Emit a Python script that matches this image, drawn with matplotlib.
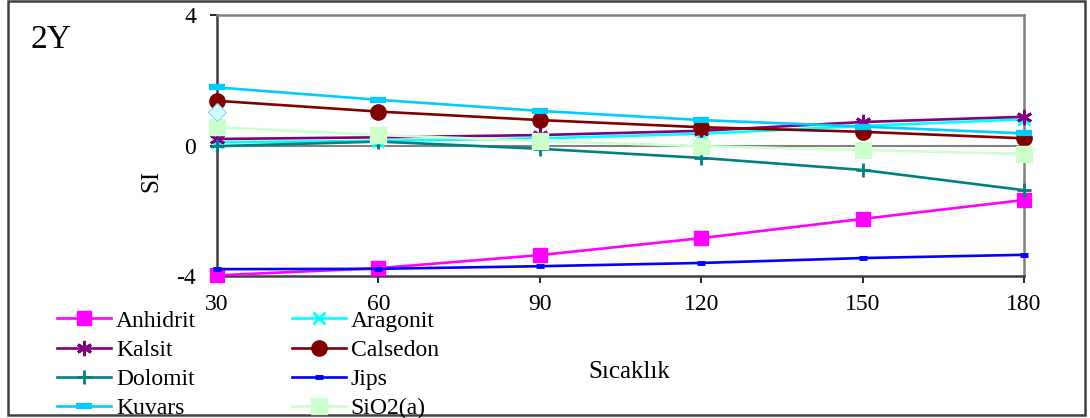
import matplotlib
matplotlib.use("Agg")
import matplotlib.pyplot as plt
from matplotlib.patches import Rectangle
import numpy as np

# Temperature steps (x axis) and saturation indices per mineral
sicaklik = [30, 60, 90, 120, 150, 180]

anhidrit = [-3.98, -3.76, -3.36, -2.84, -2.25, -1.67]
aragonit = [0.10, 0.14, 0.22, 0.36, 0.60, 0.80]
kalsit = [0.20, 0.25, 0.32, 0.45, 0.72, 0.88]
calsedon = [1.37, 1.04, 0.78, 0.56, 0.42, 0.22]
dolomit = [-0.02, 0.12, -0.10, -0.38, -0.75, -1.37]
jips = [-3.79, -3.78, -3.70, -3.60, -3.45, -3.35]
kuvars = [1.78, 1.40, 1.06, 0.78, 0.58, 0.37]
sio2_a = [0.56, 0.32, 0.14, -0.02, -0.14, -0.26]

# two more phases only reported at 30 degrees
ek_elmas = [1.02, None, None, None, None, None]
ek_ucgen = [0.76, None, None, None, None, None]

y_ticks = [-4, 0, 4]

plt.rcParams['font.family'] = ['Liberation Serif', 'DejaVu Serif']
plt.rcParams['axes.unicode_minus'] = False

fig = plt.figure(figsize=(10.9, 4.18), dpi=100)
ax = fig.add_axes([217 / 1090, 1 - 276 / 418, (1024 - 217) / 1090, (276 - 15) / 418])

lw = 1.9
ax.axhline(0, color="#808080", lw=1.5, zorder=1)

def to_arr(vals):
    return np.array([np.nan if v is None else v for v in vals], dtype=float)

ax.plot(sicaklik, to_arr(ek_ucgen), color="#FFFF00", marker="^", ms=10, lw=lw, zorder=2,
        clip_on=False)

series = [
    ("Anhidrit", anhidrit, dict(color="#FF00FF", marker="s", ms=10, mec="#FF00FF")),
    ("Aragonit", aragonit, dict(color="#00FFFF", marker="x", ms=8, mew=2)),
    ("Kalsit", kalsit, dict(color="#800080", marker=(6, 2, 0), ms=11, mew=2)),
    ("Calsedon", calsedon, dict(color="#800000", marker="o", ms=11)),
    ("Dolomit", dolomit, dict(color="#008080", marker="+", ms=10, mew=2)),
    ("Jips", jips, dict(color="#0000FF", marker="_", ms=6, mew=3.5)),
    ("Kuvars", kuvars, dict(color="#00CCFF", marker="_", ms=11, mew=4.5)),
    ("SiO2(a)", sio2_a, dict(color="#CCFFCC", marker="s", ms=11)),
]

handles = {}
for i, (name, vals, style) in enumerate(series):
    h, = ax.plot(sicaklik, vals, lw=lw, label=name, zorder=3 + i, clip_on=False, **style)
    handles[name] = h

ax.plot(sicaklik, to_arr(ek_elmas), color="#CCFFFF", marker="D", ms=9, mec="#99CCFF",
        mew=0.8, lw=lw, zorder=12, clip_on=False)

ax.set_xlim(30, 180)
ax.set_ylim(-4, 4)
ax.set_xticks(sicaklik)
ax.set_yticks(y_ticks)
ax.tick_params(axis="both", labelsize=17, direction="out", length=5, width=1.2, color="black")
ax.tick_params(axis="x", pad=8)
ax.tick_params(axis="y", pad=10)

for side in ["left", "bottom"]:
    ax.spines[side].set_color("#404040")
    ax.spines[side].set_linewidth(1.8)
for side in ["top", "right"]:
    ax.spines[side].set_color("#808080")
    ax.spines[side].set_linewidth(1.8)

# legend rows run left-to-right, so feed the columns in that order
order = ["Anhidrit", "Kalsit", "Dolomit", "Kuvars", "Aragonit", "Calsedon", "Jips", "SiO2(a)"]
fig.legend([handles[n] for n in order], order, ncol=2, frameon=False, fontsize=17,
           loc="upper left", bbox_to_anchor=(57 / 1090, 1 - 310 / 418),
           handlelength=2.3, handletextpad=0.2, columnspacing=4.05,
           labelspacing=0.33, borderpad=0, borderaxespad=0)

fig.text(151 / 1090, 1 - 181 / 418, "SI", rotation=90, fontsize=18, ha="center", va="center")
fig.text(629 / 1090, 1 - 372 / 418, "Sıcaklık", fontsize=18, ha="center", va="center")
fig.text(31 / 1090, 1 - 40 / 418, "2Y", fontsize=24, ha="left", va="center")

fig.patches.append(Rectangle((8 / 1090, 3 / 418), 1077 / 1090, 414 / 418, transform=fig.transFigure,
                             fill=False, edgecolor="#404040", lw=1.8))

fig.savefig("out.png", dpi=100)
plt.close(fig)
